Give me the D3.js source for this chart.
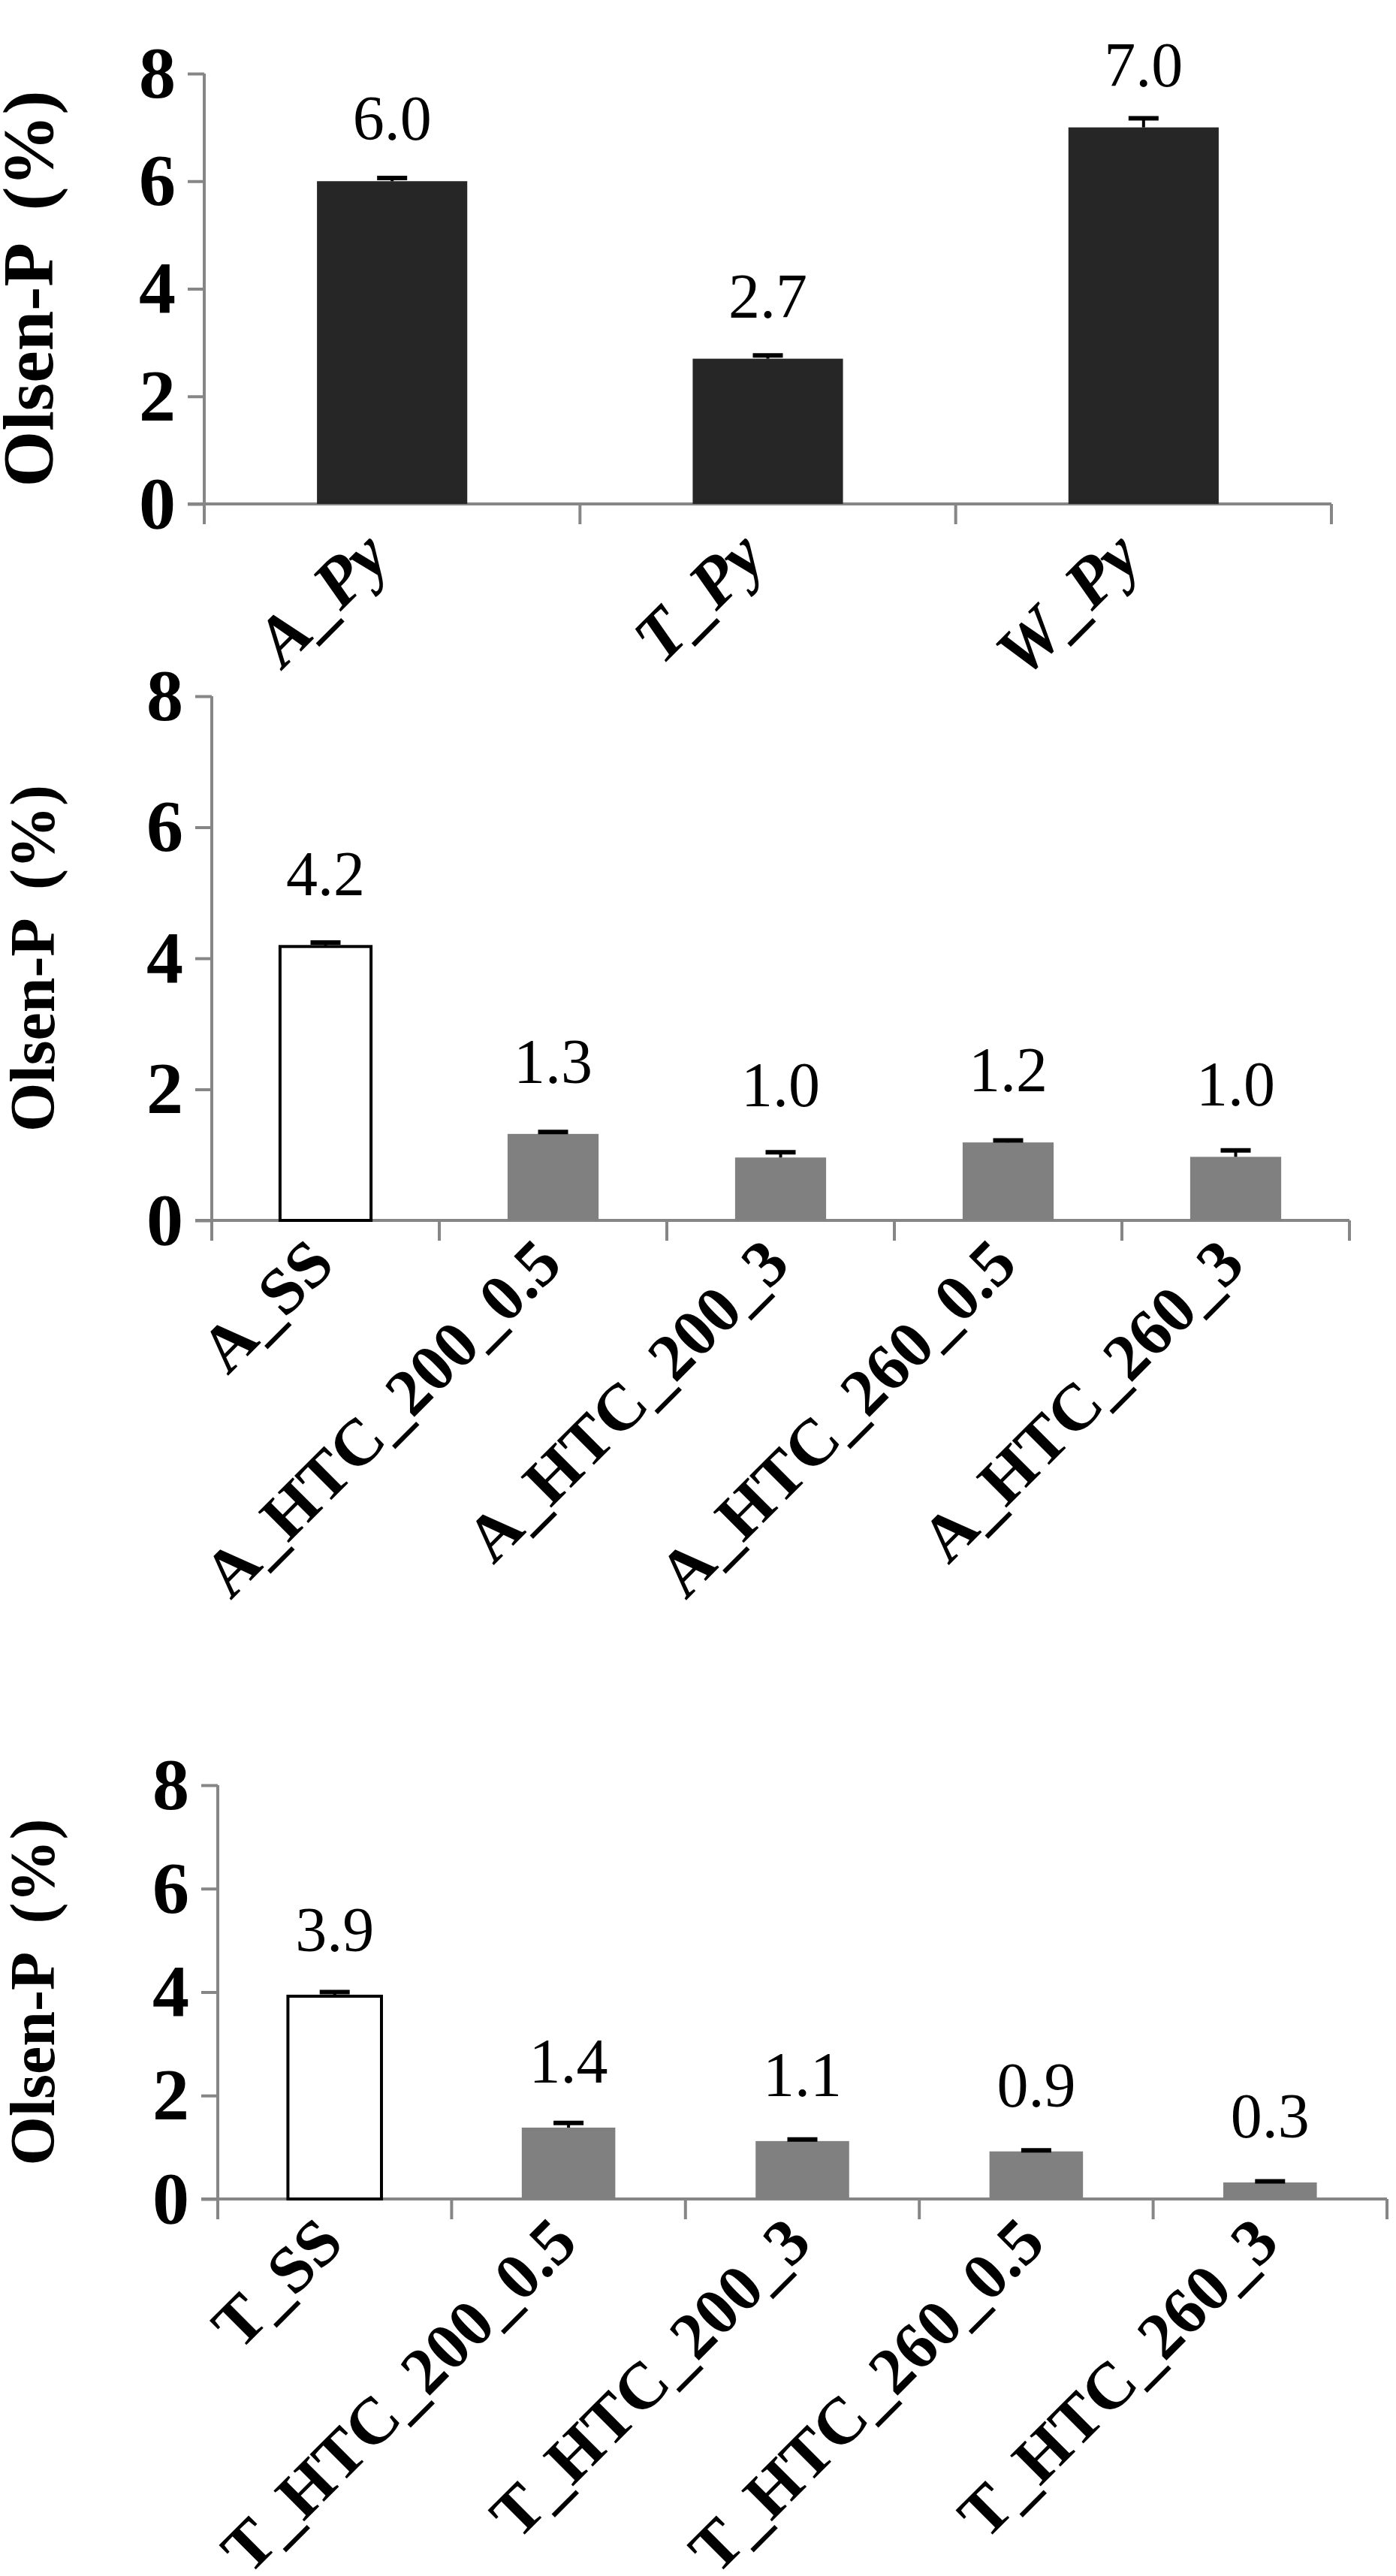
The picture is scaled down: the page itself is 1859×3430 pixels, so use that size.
<!DOCTYPE html>
<html><head><meta charset="utf-8">
<script src="https://cdn.jsdelivr.net/npm/d3@7"></script>
<style>body{margin:0;background:#fff}</style>
</head><body>
<svg id="chart" width="1859" height="3430"></svg>
<script>
// panel 1
const pyCats = ['A_Py', 'T_Py', 'W_Py']
const pyVals = [6.0, 2.7, 7.0]
const pyErr = [0.06, 0.06, 0.17]
// panel 2
const aCats = ['A_SS', 'A_HTC_200_0.5', 'A_HTC_200_3', 'A_HTC_260_0.5', 'A_HTC_260_3']
const aVals = [4.18, 1.32, 0.96, 1.19, 0.97]
const aErr = [0.06, 0.03, 0.08, 0.03, 0.1]
// panel 3
const tCats = ['T_SS', 'T_HTC_200_0.5', 'T_HTC_200_3', 'T_HTC_260_0.5', 'T_HTC_260_3']
const tVals = [3.92, 1.38, 1.12, 0.92, 0.32]
const tErr = [0.08, 0.09, 0.03, 0.02, 0.02]
const yTicks = [0, 2, 4, 6, 8]

const svg = d3.select('#chart')
const serif = "'Liberation Serif', 'DejaVu Serif', serif"

function drawPanel(p) {
    const g = svg.append('g')
    const x = d3.scaleBand().domain(p.cats).range([p.x0, p.x1]).paddingInner(0.6).paddingOuter(0.3)
    const y = d3.scaleLinear().domain([0, 8]).range([p.y0, p.y8])

    // y axis
    const ya = g.append('g').attr('transform', `translate(${p.x0},0)`)
        .call(d3.axisLeft(y).tickValues(yTicks).tickSize(22).tickPadding(16))
    ya.selectAll('path,line').attr('stroke', '#868686').attr('stroke-width', 4)
    ya.select('.domain').attr('d', `M0,${p.y8}V${p.y0}`)
    ya.selectAll('text').attr('font-family', serif).attr('font-weight', 'bold')
        .attr('font-size', 98).attr('fill', '#000')

    // x axis line with category boundary ticks
    g.append('line').attr('x1', p.x0 - 22).attr('x2', p.x1).attr('y1', p.y0).attr('y2', p.y0)
        .attr('stroke', '#868686').attr('stroke-width', 4)
    const step = (p.x1 - p.x0) / p.cats.length
    d3.range(p.cats.length + 1).forEach(i => {
        g.append('line').attr('x1', p.x0 + i * step).attr('x2', p.x0 + i * step)
            .attr('y1', p.y0).attr('y2', p.y0 + 27).attr('stroke', '#868686').attr('stroke-width', 4)
    })

    // bars
    g.selectAll('.bar').data(p.vals).enter().append('rect')
        .attr('x', (d, i) => x(p.cats[i]))
        .attr('width', x.bandwidth())
        .attr('y', d => y(d))
        .attr('height', d => p.y0 - y(d))
        .attr('fill', (d, i) => p.fills[i])
        .attr('stroke', (d, i) => p.fills[i] === '#ffffff' ? '#000' : 'none')
        .attr('stroke-width', 4)

    // error bars, value labels, category labels
    p.vals.forEach((v, i) => {
        const cx = x(p.cats[i]) + x.bandwidth() / 2
        g.append('line').attr('x1', cx).attr('x2', cx).attr('y1', y(v)).attr('y2', y(v + p.err[i]))
            .attr('stroke', '#000').attr('stroke-width', 4)
        g.append('line').attr('x1', cx - 20).attr('x2', cx + 20).attr('y1', y(v + p.err[i])).attr('y2', y(v + p.err[i]))
            .attr('stroke', '#000').attr('stroke-width', 6)
        g.append('text').attr('x', cx).attr('y', y(v) - p.lblGap)
            .attr('text-anchor', 'middle').attr('font-family', serif).attr('font-size', 84)
            .text(v.toFixed(1))
        g.append('text')
            .attr('transform', `translate(${cx + p.lx},${p.y0 + p.ly}) rotate(-45)`)
            .attr('text-anchor', 'end').attr('font-family', serif).attr('font-weight', 'bold')
            .attr('font-style', p.italic ? 'italic' : 'normal')
            .attr('font-size', p.xfs).text(p.cats[i])
    })

    // y title
    g.append('text').attr('transform', `translate(${p.tx},${(p.y0 + p.y8) / 2}) rotate(-90)`)
        .attr('text-anchor', 'middle').attr('font-family', serif).attr('font-weight', 'bold')
        .attr('font-size', p.tfs).attr('xml:space', 'preserve').text('Olsen-P  (%)')
}

drawPanel({ cats: pyCats, vals: pyVals, err: pyErr, fills: ['#262626', '#262626', '#262626'],
    x0: 272, x1: 1773, y0: 671, y8: 98, lblGap: 55, lx: 0, ly: 75, tx: 70, italic: true, xfs: 92, tfs: 96 })
drawPanel({ cats: aCats, vals: aVals, err: aErr, fills: ['#ffffff', '#808080', '#808080', '#808080', '#808080'],
    x0: 282, x1: 1797, y0: 1625, y8: 927, lblGap: 68, lx: 15, ly: 62, tx: 72, xfs: 88, tfs: 84 })
drawPanel({ cats: tCats, vals: tVals, err: tErr, fills: ['#ffffff', '#808080', '#808080', '#808080', '#808080'],
    x0: 290, x1: 1847, y0: 2928, y8: 2377, lblGap: 60, lx: 15, ly: 62, tx: 72, xfs: 88, tfs: 84 })
</script>
</body></html>
